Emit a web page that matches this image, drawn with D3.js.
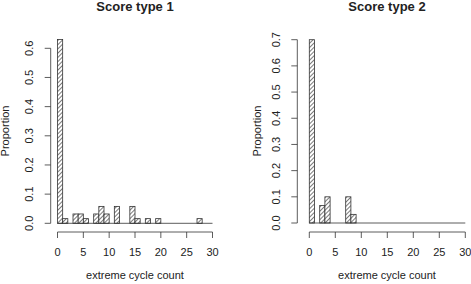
<!DOCTYPE html>
<html>
<head>
<meta charset="utf-8">
<script src="https://cdnjs.cloudflare.com/ajax/libs/d3/7.8.5/d3.min.js"></script>
<style>
body{margin:0;background:#fff;}
text{font-family:"Liberation Sans",Arial,sans-serif;fill:#222;}
</style>
</head>
<body>
<div id="chart"></div>
<script>
var W=471,H=284;

// data: bins of width 1 starting at x, height = proportion
var titles=["Score type 1","Score type 2"];
var bins1=[0,1,3,4,5,7,8,9,11,14,15,17,19,27];
var props1=[0.63,0.016,0.032,0.032,0.016,0.032,0.058,0.032,0.058,0.058,0.016,0.016,0.016,0.016];
var bins2=[0,2,3,7,8];
var props2=[0.7,0.067,0.1,0.1,0.033];
var xTicks=[0,5,10,15,20,25,30];
var yTicks1=[0,0.1,0.2,0.3,0.4,0.5,0.6];
var yTicks2=[0,0.1,0.2,0.3,0.4,0.5,0.6,0.7];

var svg=d3.select("#chart").append("svg").attr("width",W).attr("height",H);

// hatch pattern
var defs=svg.append("defs");
var pat=defs.append("pattern").attr("id","hatch").attr("patternUnits","userSpaceOnUse")
    .attr("width",3).attr("height",3).attr("patternTransform","rotate(45)");
pat.append("rect").attr("width",3).attr("height",3).attr("fill","#fff");
pat.append("line").attr("x1",0).attr("y1",0).attr("x2",0).attr("y2",3)
    .attr("stroke","#333").attr("stroke-width",1.3);

var panels=[
  {title:titles[0],bins:bins1,props:props1,yTicks:yTicks1,yMax:0.6,x0:57.5,x1:212.5,y0:223.3,yTop:48.3,axisX:50.7,cx:135,ylabX:8.5},
  {title:titles[1],bins:bins2,props:props2,yTicks:yTicks2,yMax:0.7,x0:309.3,x1:465.3,y0:223,yTop:39.7,axisX:297.3,cx:387,ylabX:261}
];

panels.forEach(function(p){
    var g=svg.append("g");
    var xScale=d3.scaleLinear().domain([0,30]).range([p.x0,p.x1]);
    var yScale=d3.scaleLinear().domain([0,p.yMax]).range([p.y0,p.yTop]);

    // 标题
    g.append("text").attr("x",p.cx).attr("y",10.5).attr("text-anchor","middle")
        .attr("font-size",13).attr("font-weight","bold").text(p.title);

    // bars
    var data=p.bins.map(function(b,i){return {x:b,v:p.props[i]};});
    g.selectAll(".bar").data(data).enter().append("rect")
        .attr("x",function(d){return xScale(d.x);})
        .attr("y",function(d){return yScale(d.v);})
        .attr("width",function(d){return xScale(d.x+1)-xScale(d.x);})
        .attr("height",function(d){return yScale(0)-yScale(d.v);})
        .attr("fill","url(#hatch)").attr("stroke","#333").attr("stroke-width",0.8);

    // zero line
    g.append("line").attr("x1",xScale(0)).attr("x2",xScale(30)).attr("y1",yScale(0)).attr("y2",yScale(0))
        .attr("stroke","#333").attr("stroke-width",0.8);

    // x axis
    var ax=232;
    g.append("line").attr("x1",xScale(0)).attr("x2",xScale(30)).attr("y1",ax).attr("y2",ax)
        .attr("stroke","#333").attr("stroke-width",0.8);
    g.selectAll(".xt").data(xTicks).enter().append("line")
        .attr("x1",xScale).attr("x2",xScale).attr("y1",ax).attr("y2",ax+6)
        .attr("stroke","#333").attr("stroke-width",0.8);
    g.selectAll(".xl").data(xTicks).enter().append("text")
        .attr("x",xScale).attr("y",255.5).attr("text-anchor","middle").attr("font-size",11)
        .text(function(d){return d;});
    g.append("text").attr("x",p.cx).attr("y",279).attr("text-anchor","middle").attr("font-size",11)
        .text("extreme cycle count");

    // y axis
    g.append("line").attr("x1",p.axisX).attr("x2",p.axisX).attr("y1",yScale(0)).attr("y2",yScale(p.yMax))
        .attr("stroke","#333").attr("stroke-width",0.8);
    g.selectAll(".yt").data(p.yTicks).enter().append("line")
        .attr("x1",p.axisX-6).attr("x2",p.axisX).attr("y1",yScale).attr("y2",yScale)
        .attr("stroke","#333").attr("stroke-width",0.8);
    g.selectAll(".yl").data(p.yTicks).enter().append("text")
        .attr("transform",function(d){return "translate("+(p.axisX-17.5)+","+yScale(d)+") rotate(-90)";})
        .attr("text-anchor","middle").attr("font-size",11)
        .text(function(d){return d3.format(".1f")(d);});
    g.append("text").attr("transform","translate("+p.ylabX+",131) rotate(-90)")
        .attr("text-anchor","middle").attr("font-size",11).text("Proportion");
});
</script>
</body>
</html>
